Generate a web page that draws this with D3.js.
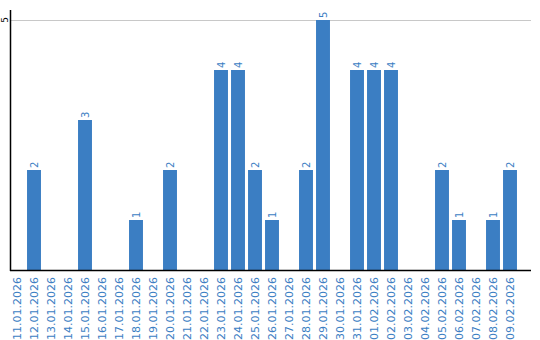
<!DOCTYPE html>
<html>
<head>
<meta charset="utf-8">
<script src="https://cdn.jsdelivr.net/npm/d3@7"></script>
<style>
body { margin: 0; background: #fff; }
text { font-family: "DejaVu Sans", sans-serif; }
</style>
</head>
<body>
<svg id="chart" width="540" height="340"></svg>
<script>
var dates = ["11.01.2026", "12.01.2026", "13.01.2026", "14.01.2026", "15.01.2026", "16.01.2026",
    "17.01.2026", "18.01.2026", "19.01.2026", "20.01.2026", "21.01.2026", "22.01.2026",
    "23.01.2026", "24.01.2026", "25.01.2026", "26.01.2026", "27.01.2026", "28.01.2026",
    "29.01.2026", "30.01.2026", "31.01.2026", "01.02.2026", "02.02.2026", "03.02.2026",
    "04.02.2026", "05.02.2026", "06.02.2026", "07.02.2026", "08.02.2026", "09.02.2026"];
var counts = [0, 2, 0, 0, 3, 0, 0, 1, 0, 2, 0, 0, 4, 4, 2, 1, 0, 2, 5, 0, 4, 4, 4, 0, 0, 2, 1, 0, 1, 2];
var yTicks = [5];

var data = dates.map(function (d, i) { return { date: d, value: counts[i] }; });

var svg = d3.select("#chart");
var blue = "#3b7ec3";

var xScale = d3.scaleBand()
    .domain(dates)
    .range([8.5, 518.5])
    .paddingInner(0.18)
    .paddingOuter(0.09);

var yScale = d3.scaleLinear()
    .domain([0, 5])
    .range([270, 20]);

// gridline
svg.selectAll(".grid")
    .data(yTicks)
    .enter().append("line")
    .attr("x1", 11).attr("x2", 531)
    .attr("y1", function (d) { return yScale(d) + 0.5; })
    .attr("y2", function (d) { return yScale(d) + 0.5; })
    .style("stroke", "#c8c8c8");

// bars
svg.selectAll(".bar")
    .data(data.filter(function (d) { return d.value > 0; }))
    .enter().append("rect")
    .attr("x", function (d) { return xScale(d.date); })
    .attr("y", function (d) { return yScale(d.value); })
    .attr("width", xScale.bandwidth())
    .attr("height", function (d) { return yScale(0) - yScale(d.value); })
    .style("fill", blue);

// value labels
svg.selectAll(".val")
    .data(data.filter(function (d) { return d.value > 0; }))
    .enter().append("text")
    .attr("transform", function (d) {
        return "translate(" + (xScale(d.date) + xScale.bandwidth() / 2 + 4) + "," + (yScale(d.value) - 2) + ") rotate(-90)";
    })
    .style("font-size", "10px")
    .style("fill", blue)
    .text(function (d) { return d.value; });

// axes lines
svg.append("line")
    .attr("x1", 10.5).attr("x2", 10.5).attr("y1", 10).attr("y2", 271)
    .style("stroke", "#000").style("stroke-width", 1.5);
svg.append("line")
    .attr("x1", 10).attr("x2", 531).attr("y1", 270.5).attr("y2", 270.5)
    .style("stroke", "#000").style("stroke-width", 1.5);

// y tick labels
svg.selectAll(".ytick")
    .data(yTicks)
    .enter().append("text")
    .attr("transform", function (d) { return "translate(8," + yScale(d) + ") rotate(-90)"; })
    .attr("text-anchor", "middle")
    .style("font-size", "9px")
    .style("fill", "#000")
    .text(function (d) { return d; });

// x labels
svg.selectAll(".xlab")
    .data(dates)
    .enter().append("text")
    .attr("transform", function (d) {
        return "translate(" + (xScale(d) + xScale.bandwidth() / 2 + 4) + ",277) rotate(-90)";
    })
    .attr("text-anchor", "end")
    .style("font-size", "11px")
    .style("fill", blue)
    .text(function (d) { return d; });
</script>
</body>
</html>
